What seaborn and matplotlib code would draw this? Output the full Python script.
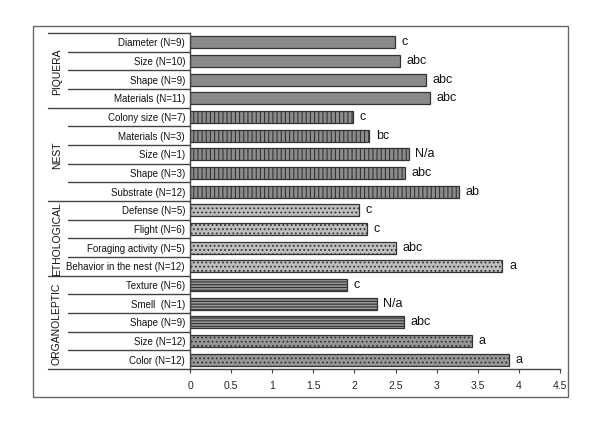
import seaborn as sns
import matplotlib.pyplot as plt
import matplotlib.patches as mpatches
import matplotlib.transforms as mtransforms
import pandas as pd

# rows, top to bottom
groups = ['PIQUERA'] * 4 + ['NEST'] * 5 + ['ETHOLOGICAL'] * 4 + ['ORGANOLEPTIC'] * 5
labels = ['Diameter (N=9)', 'Size (N=10)', 'Shape (N=9)', 'Materials (N=11)',
          'Colony size (N=7)', 'Materials (N=3)', 'Size (N=1)', 'Shape (N=3)', 'Substrate (N=12)',
          'Defense (N=5)', 'Flight (N=6)', 'Foraging activity (N=5)', 'Behavior in the nest (N=12)',
          'Texture (N=6)', 'Smell  (N=1)', 'Shape (N=9)', 'Size (N=12)', 'Color (N=12)']
values = [2.49, 2.55, 2.87, 2.92,
          1.98, 2.18, 2.66, 2.61, 3.27,
          2.06, 2.15, 2.50, 3.80,
          1.91, 2.27, 2.60, 3.43, 3.88]
letters = ['c', 'abc', 'abc', 'abc',
           'c', 'bc', 'N/a', 'abc', 'ab',
           'c', 'c', 'abc', 'a',
           'c', 'N/a', 'abc', 'a', 'a']
xticks = [0, 0.5, 1, 1.5, 2, 2.5, 3, 3.5, 4, 4.5]

# fill / hatch per row
styles = ([('#8a8a8a', '', None)] * 4
          + [('#8c8c8c', '||||', '#d4d4d4')] * 5
          + [('#bebebe', '....', '#dadada')] * 4
          + [('#959595', '------', '#c0c0c0')] * 3
          + [('#979797', '....', '#b4b4b4')] * 2)

df = pd.DataFrame({'label': [f'{i}_{l}' for i, l in enumerate(labels)], 'value': values})

sns.set_style('white')
plt.rcParams['font.family'] = ['Liberation Sans', 'DejaVu Sans']
plt.rcParams['hatch.linewidth'] = 0.8

fig = plt.figure(figsize=(6, 4.31), dpi=100)
ax = fig.add_axes([190 / 600, 1 - 370 / 431, 370 / 600, 336 / 431])

sns.barplot(data=df, x='value', y='label', orient='h', ax=ax, width=0.66,
            color='#8a8a8a', edgecolor='#333333', linewidth=0.9)

for p, (fc, hatch, hc) in zip(ax.patches, styles):
    p.set_facecolor(fc)
    if hatch:
        p.set_hatch(hatch)
        try:
            p.set_hatchcolor(hc)
        except AttributeError:
            pass

ax.set_xlim(0, 4.5)
ax.set_ylim(len(labels) - 0.5, -0.5)
ax.set_xticks(xticks)
ax.set_xticklabels([f'{t:g}' for t in xticks], fontsize=7.5)
ax.tick_params(axis='x', direction='out', length=3, width=0.8, color='#444444', pad=5, bottom=True)
ax.set_yticks([])
ax.set_xlabel('')
ax.set_ylabel('')
for s in ['top', 'right']:
    ax.spines[s].set_visible(False)
for s in ['left', 'bottom']:
    ax.spines[s].set_color('#444444')
    ax.spines[s].set_linewidth(1.0)

# significance letters
for i, (v, t) in enumerate(zip(values, letters)):
    ax.text(v + 0.08, i - 0.05, t, va='center', ha='left', fontsize=9, color='#111111')

# left label table
tr = mtransforms.blended_transform_factory(ax.transAxes, ax.transData)
x_ax = lambda px: (px - 190) / 370
for i, l in enumerate(labels):
    ax.text(x_ax(185), i, l, transform=tr, ha='right', va='center', fontsize=7, color='#111111')

starts = [0]
for i in range(1, len(groups)):
    if groups[i] != groups[i - 1]:
        starts.append(i)
ends = starts[1:] + [len(groups)]

for i in range(len(groups) + 1):
    y = i - 0.5
    full = i in starts or i == len(groups)
    x0 = x_ax(48) if full else x_ax(68)
    ax.plot([x0, 0], [y, y], transform=tr, clip_on=False, color='#444444', lw=1.0)

for s, e in zip(starts, ends):
    ax.text(x_ax(57), (s + e - 1) / 2, groups[s], transform=tr, rotation=90,
            ha='center', va='center', fontsize=7.5, color='#111111')

# outer frame
fig.patches.append(mpatches.Rectangle((33 / 600, 1 - 398 / 431), 535 / 600, 371 / 431,
                                      transform=fig.transFigure, fill=False,
                                      edgecolor='#666666', lw=1.0))

fig.savefig('out.png', dpi=100)
